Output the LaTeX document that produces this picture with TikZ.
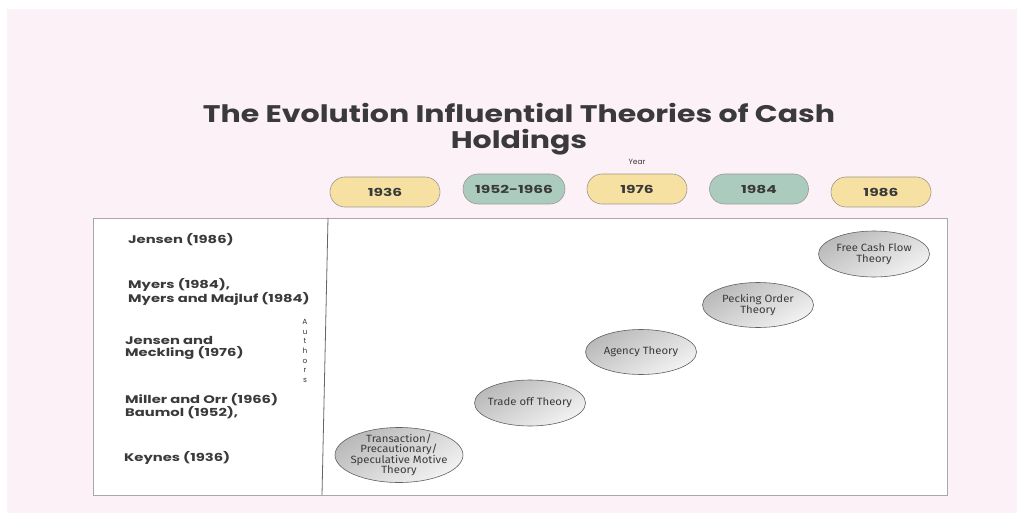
\documentclass[tikz,border=0pt]{standalone}
\usepackage{fontspec}
\setmainfont{Poppins}
\newfontfamily\thfont[FakeStretch=1.08]{Fira Sans}
\newfontfamily\titlefont[FakeStretch=1.25]{Poppins}
\newfontfamily\yearfont[FakeStretch=1.4]{Poppins}
\newfontfamily\authfont[FakeStretch=1.34]{Poppins}
\usetikzlibrary{shapes.geometric}
\definecolor{bgpink}{HTML}{FDF1F8}
\definecolor{txtgray}{HTML}{3A3A3A}
\definecolor{pillyellow}{HTML}{F6E0A2}
\definecolor{pillgreen}{HTML}{AACBBE}
\definecolor{pillborder}{HTML}{9A9A8E}
\definecolor{boxborder}{HTML}{A8A8A8}
\tikzset{
  pill/.style={draw=pillborder, line width=0.6pt, rounded corners=15pt, minimum width=#1, minimum height=30pt, inner sep=0pt, font=\yearfont\bfseries\fontsize{11}{13}\selectfont, text=txtgray},
  author/.style={anchor=west, align=left, inner sep=0pt, font=\authfont\bfseries\fontsize{11}{12.5}\selectfont, text=txtgray},
  theory/.style={ellipse, draw=gray!75!black, line width=0.6pt, inner xsep=-8pt, inner ysep=-3pt, align=center,
    top color=gray!55, bottom color=gray!10, shading angle=30,
    font=\thfont\fontsize{10.5}{10.5}\selectfont, text=txtgray},
}
\begin{document}
\begin{tikzpicture}[x=1pt,y=-1pt]
\useasboundingbox (0,0) rectangle (1017,513);
\fill[white] (0,0) rectangle (1017,513);
\fill[bgpink] (7,9) rectangle (1017,513);
% title
\node[align=center, font=\titlefont\bfseries\fontsize{24}{26}\selectfont, text=txtgray] (title) at (519,129) {The Evolution Influential Theories of Cash\\Holdings};
\node[font=\fontsize{7.5}{9}\selectfont, text=txtgray] (year) at (637,162) {Year};
% pills
\node[pill=110pt, fill=pillyellow] (p1) at (385,192) {1936};
\node[pill=102pt, fill=pillgreen] (p2) at (514,189) {1952-1966};
\node[pill=100pt, fill=pillyellow] (p3) at (637,189) {1976};
\node[pill=99pt, fill=pillgreen] (p4) at (759,189) {1984};
\node[pill=100pt, fill=pillyellow] (p5) at (881,192) {1986};
% main box
\draw[boxborder, fill=white, line width=0.8pt] (93,218) rectangle (947,495);
\coordinate (dtop) at (328,218);
\coordinate (dbot) at (322,495);
\draw[gray!80!black, line width=0.8pt] (dtop) -- (dbot);
% authors
\node[author] (a1) at (128,240) {Jensen (1986)};
\node[author] (a2) at (128,292) {Myers (1984),\\Myers and Majluf (1984)};
\node[author] (a3) at (125,348) {Jensen and\\Meckling (1976)};
\node[author] (a4) at (125,406) {Miller and Orr (1966)\\Baumol (1952),};
\node[author] (a5) at (124,458) {Keynes (1936)};
\node[align=center, font=\fontsize{7.5}{9.6}\selectfont, text=txtgray] (auth) at (305,351) {A\\u\\t\\h\\o\\r\\s};
% theories
\node[theory, minimum width=128pt, minimum height=55pt] (t1) at (399,455) {Transaction/\\Precautionary/\\Speculative Motive\\Theory};
\node[theory, minimum width=111pt, minimum height=46pt] (t2) at (530,403) {Trade off Theory};
\node[theory, minimum width=111pt, minimum height=45pt] (t3) at (641,352) {Agency Theory};
\node[theory, minimum width=111pt, minimum height=45pt] (t4) at (758,305) {Pecking Order\\Theory};
\node[theory, minimum width=111pt, minimum height=46pt] (t5) at (874,254) {Free Cash Flow\\Theory};
\end{tikzpicture}
\end{document}
